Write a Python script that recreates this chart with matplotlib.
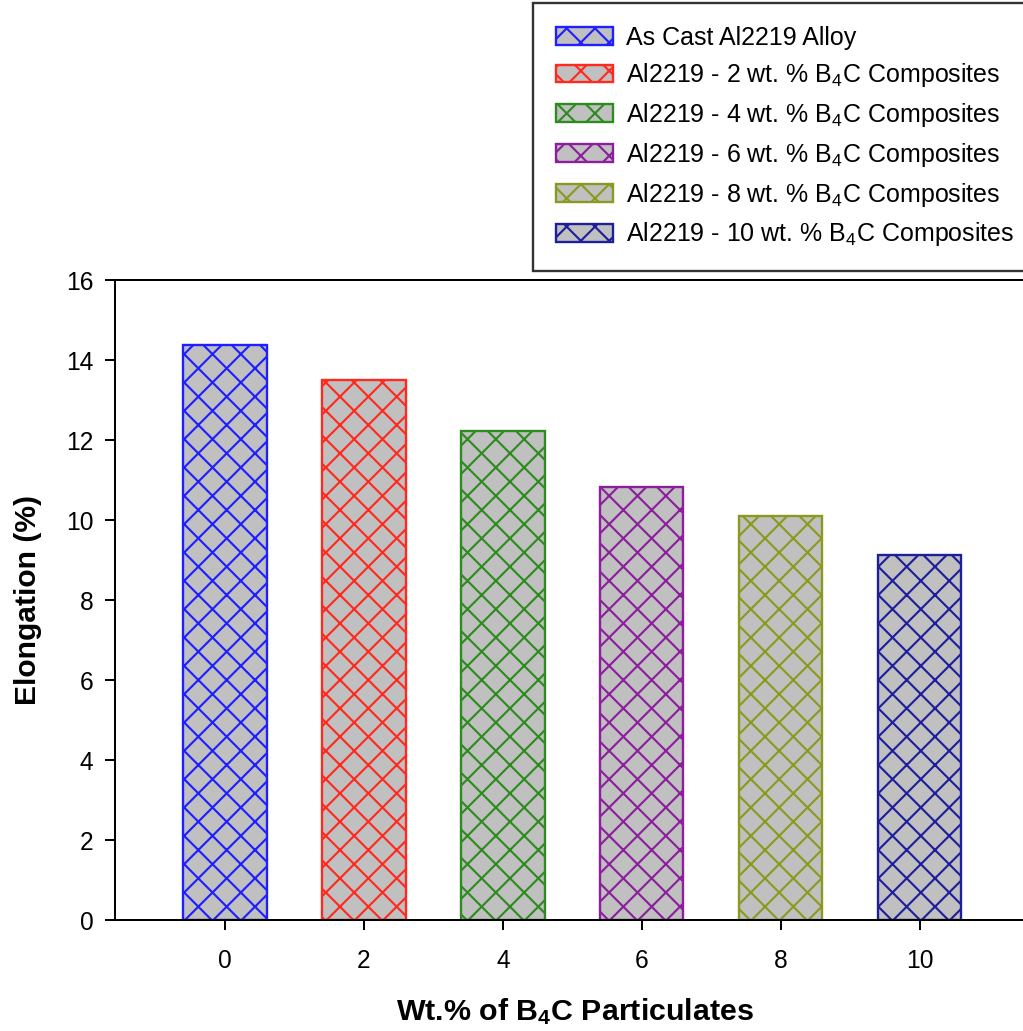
import matplotlib
matplotlib.use("Agg")
import matplotlib.pyplot as plt

plt.rcParams['font.family'] = ['Liberation Sans', 'DejaVu Sans']
plt.rcParams['mathtext.fontset'] = 'custom'
plt.rcParams['mathtext.rm'] = 'Liberation Sans'
plt.rcParams['mathtext.it'] = 'Liberation Sans'
plt.rcParams['mathtext.bf'] = 'Liberation Sans:bold'
plt.rcParams['hatch.linewidth'] = 0.9

# data
wt_pct = [0, 2, 4, 6, 8, 10]
elongation = [14.38, 13.5, 12.23, 10.83, 10.1, 9.13]
labels = [
    'As Cast Al2219 Alloy',
    'Al2219 - 2 wt. % B$_4$C Composites',
    'Al2219 - 4 wt. % B$_4$C Composites',
    'Al2219 - 6 wt. % B$_4$C Composites',
    'Al2219 - 8 wt. % B$_4$C Composites',
    'Al2219 - 10 wt. % B$_4$C Composites',
]
edge_colors = ['#1f1fff', '#ff2a1f', '#2e8b1f', '#8b1f9c', '#8b9a1f', '#1f1f9c']

dpi = 170
fig = plt.figure(figsize=(1023 / dpi, 1031 / dpi), dpi=dpi)
ax = fig.add_axes([115 / 1023, 1 - 920 / 1031, (1035 - 115) / 1023, 640 / 1031])

for x, y, c, lab in zip(wt_pct, elongation, edge_colors, labels):
    ax.bar(x, y, width=1.2, color='#c0c0c0', edgecolor=c, hatch='xx',
           linewidth=1.0, label=lab)

ax.set_xlim(-1.583, 11.66)
ax.set_ylim(0, 16)
ax.set_xticks(wt_pct)
ax.set_yticks(range(0, 17, 2))
ax.tick_params(direction='out', length=4.2, width=0.85, labelsize=10.4, pad=5)
ax.tick_params(axis='x', pad=8)
for s in ax.spines.values():
    s.set_linewidth(0.85)

ax.set_ylabel('Elongation (%)', fontsize=12.7, fontweight='bold', labelpad=10)
ax.set_xlabel(r'Wt.% of B$_\mathbf{4}$C Particulates', fontsize=12.9,
              fontweight='bold', labelpad=10)

leg = ax.legend(loc='upper left', bbox_to_anchor=(533 / 1023, 1 - 3 / 1031),
                bbox_transform=fig.transFigure, fontsize=10.6, frameon=True,
                fancybox=False, edgecolor='black', handlelength=2.3,
                handleheight=0.72, labelspacing=0.47, borderpad=0.9,
                handletextpad=0.5, borderaxespad=0)
leg.get_frame().set_linewidth(1.0)

fig.savefig('out.png', dpi=dpi)
